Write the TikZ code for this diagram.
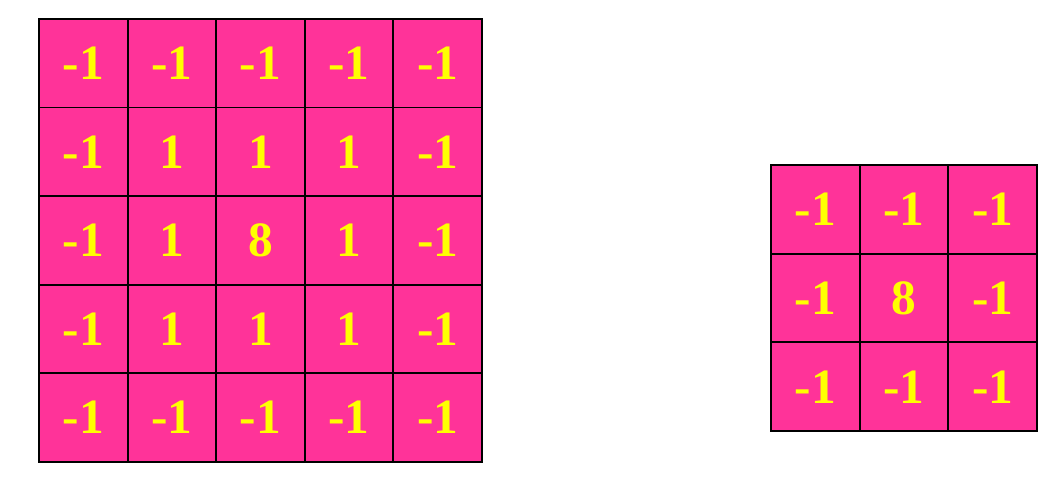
\documentclass[tikz,border=0pt]{standalone}
\usepackage{fontspec}
\setmainfont{Liberation Serif}
\definecolor{cellpink}{HTML}{FF3399}
\definecolor{cellyellow}{HTML}{FFFF00}
\begin{document}
\begin{tikzpicture}[x=0.75pt,y=-0.75pt,
  cellbox/.style={draw=black,line width=1.4pt,fill=cellpink,minimum width=66.45pt,minimum height=66.6pt,inner sep=0pt,anchor=center,text=cellyellow,font=\fontsize{37}{37}\selectfont\bfseries}]
\useasboundingbox (0,0) rectangle (1063,477);
% left 5x5 grid: x 39..482, y 19..462
\foreach \row/\vals in {1/{-1,-1,-1,-1,-1},2/{-1,1,1,1,-1},3/{-1,1,8,1,-1},4/{-1,1,1,1,-1},5/{-1,-1,-1,-1,-1}}{
  \foreach \v [count=\col] in \vals {
    \node[cellbox] (L-\row-\col) at ({39+88.6*(\col-0.5)},{19+88.6*(\row-0.5)}) {\v};
  }
}
% right 3x3 grid: x 771..1037, y 165..431
\foreach \row/\vals in {1/{-1,-1,-1},2/{-1,8,-1},3/{-1,-1,-1}}{
  \foreach \v [count=\col] in \vals {
    \node[cellbox] (R-\row-\col) at ({771+88.7*(\col-0.5)},{165+88.7*(\row-0.5)}) {\v};
  }
}
\end{tikzpicture}
\end{document}
